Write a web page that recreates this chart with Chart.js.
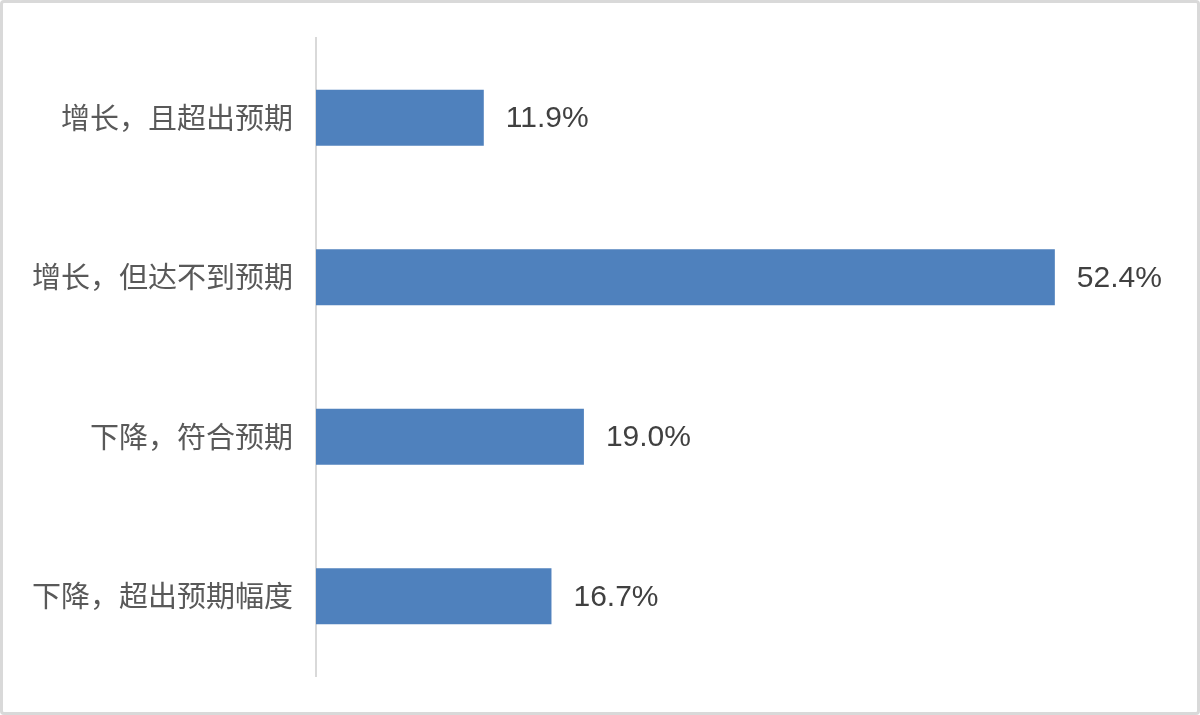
<!DOCTYPE html>
<html>
<head>
<meta charset="utf-8">
<script src="https://cdn.jsdelivr.net/npm/chart.js@4/dist/chart.umd.min.js"></script>
<style>
  html, body { margin: 0; padding: 0; background: #fff; }
  #wrap { position: relative; width: 1200px; height: 715px; overflow: hidden; }
  #c { position: absolute; left: 0; top: 0; }
  #frame { position: absolute; left: 0; top: 0; width: 1200px; height: 715px; box-sizing: border-box;
           border: 3px solid #d9d9d9; border-radius: 4px; pointer-events: none; }
</style>
</head>
<body>
<div id="wrap">
  <canvas id="c" width="1200" height="715"></canvas>
  <div id="frame"></div>
</div>
<script>
const categories = ['增长，且超出预期', '增长，但达不到预期', '下降，符合预期', '下降，超出预期幅度'];
const values = [11.9, 52.4, 19.0, 16.7];

const valueLabels = {
  id: 'valueLabels',
  afterDatasetsDraw(chart) {
    const ctx = chart.ctx;
    const meta = chart.getDatasetMeta(0);
    ctx.save();
    ctx.font = '30px "Liberation Sans", Arial, sans-serif';
    ctx.fillStyle = '#404040';
    ctx.textAlign = 'left';
    ctx.textBaseline = 'middle';
    meta.data.forEach((bar, i) => {
      ctx.fillText(values[i].toFixed(1) + '%', bar.x + 22, bar.y + 1);
    });
    ctx.restore();
  }
};

new Chart(document.getElementById('c'), {
  type: 'bar',
  data: {
    labels: categories,
    datasets: [{
      data: values,
      backgroundColor: '#4f81bd',
      borderWidth: 0,
      categoryPercentage: 1,
      barPercentage: 0.35
    }]
  },
  options: {
    indexAxis: 'y',
    responsive: false,
    animation: false,
    layout: { padding: { top: 38, bottom: 39, left: 0, right: 38 } },
    plugins: { legend: { display: false }, tooltip: { enabled: false } },
    scales: {
      x: { display: false, min: 0, max: 60 },
      y: {
        grid: { display: false },
        border: { display: true, color: '#d9d9d9', width: 2 },
        ticks: {
          color: '#595959',
          padding: 15,
          font: { family: '"Noto Sans CJK SC", sans-serif', size: 29 }
        },
        afterFit(scale) { scale.width = 316; }
      }
    }
  },
  plugins: [valueLabels]
});
</script>
</body>
</html>
